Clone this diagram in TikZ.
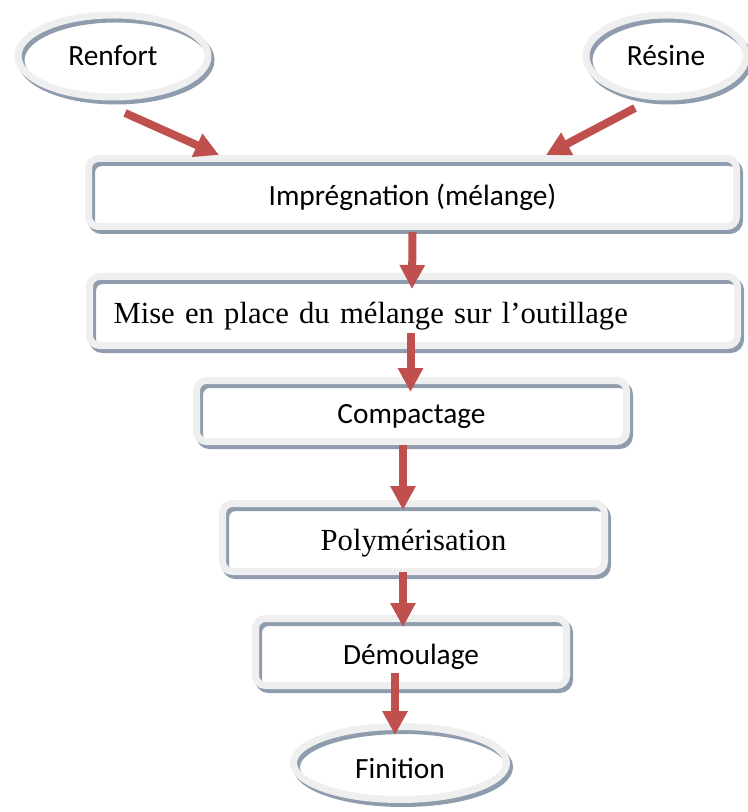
\documentclass[tikz,border=0pt]{standalone}
\usepackage{fontspec}
\setmainfont{Liberation Serif}
\newfontfamily\calibri{Carlito}
\usetikzlibrary{positioning,arrows.meta,calc,shapes.geometric}
\definecolor{framegray}{RGB}{239,239,239}
\definecolor{shadowblue}{RGB}{142,156,173}
\definecolor{arrowred}{RGB}{192,80,77}
\tikzset{
  frame/.style = {draw=framegray, line width=5.25pt,
                  preaction={draw=shadowblue, line width=5.25pt,
                             transform canvas={shift={(2.25pt,-3pt)}}}},
  box/.style   = {frame, rectangle, rounded corners=7.5pt,
                  text height=23pt, text depth=4pt,
                  font=\calibri\fontsize{22}{26}\selectfont},
  oval/.style  = {frame, ellipse,
                  font=\calibri\fontsize{22}{26}\selectfont},
  serif/.style = {font=\fontsize{23}{28}\selectfont},
  arr/.style   = {-{Triangle[length=18pt,width=18pt]},
                  line width=6pt, draw=arrowred}
}

\begin{document}
\begin{tikzpicture}[x=0.75pt, y=-0.75pt]
    \useasboundingbox (0,0) rectangle (747,812);
    % inputs
    \node[oval, minimum width=142.5pt, minimum height=61.5pt] (renfort) at (113,56) {Renfort};
    \node[oval, minimum width=120pt, minimum height=61.5pt] (resine) at (666,56) {Résine};
    % process steps
    \node[box, minimum width=486pt, minimum height=51pt] (imp) at (412.5,192.5)
      {Imprégnation (mélange)};
    \node[box, serif, text width=450pt, inner xsep=18pt, align=left,
          minimum height=51.75pt] (mise) at (413.5,311)
      {Mise en place du mélange sur l’outillage};
    \node[box, minimum width=322.5pt, minimum height=45.75pt] (comp) at (411.5,411) {Compactage};
    \node[box, serif, minimum width=286.5pt, minimum height=51pt] (poly) at (413.5,537.5)
      {Polymérisation};
    \node[box, minimum width=233.25pt, minimum height=50.25pt] (dem) at (411,652) {Démoulage};
    \node[oval, text height=23pt, text depth=0pt,
          minimum width=159.75pt, minimum height=54.75pt] (fin) at (400,763) {Finition};
    % arrows
    \draw[arr] ($(renfort.south)+(12,12.5)$) -- ($(imp.north west)+(134,0)$);
    \draw[arr] ($(resine.south)+(-31,7.5)$) -- ($(imp.north east)+(-194,0)$);
    \draw[arr] ($(imp.south)+(0,2)$) -- ($(mise.north)+(-1.5,16)$);
    \draw[arr] ($(mise.south)+(-3,-16)$) -- ($(comp.north)+(-1,15)$);
    \draw[arr] ($(comp.south)+(-8.5,0)$) -- ($(poly.north)+(-10.5,10)$);
    \draw[arr] ($(poly.south)+(-10.5,-3)$) -- ($(dem.north)+(-8,12)$);
    \draw[arr] ($(dem.south)+(-16,-16)$) -- ($(fin.north)+(-5,12)$);
\end{tikzpicture}
\end{document}
